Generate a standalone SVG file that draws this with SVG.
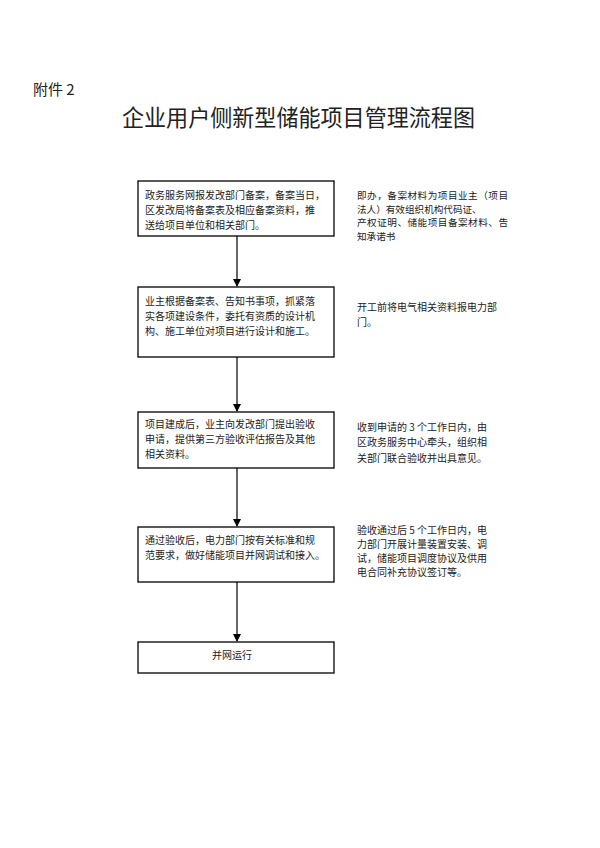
<svg xmlns="http://www.w3.org/2000/svg" width="600" height="848" viewBox="0 0 600 848">
<style>
text{font-family:"Noto Sans CJK SC","Noto Sans CJK JP",sans-serif;fill:#222}
.b{fill:#fff;stroke:#000;stroke-width:1.3}
.t{font-size:10px}
.r{font-size:9.6px}
.c{stroke:#000;stroke-width:1.2;fill:none}
</style>
<defs><marker id="a" markerWidth="8" markerHeight="8" refX="7" refY="4" orient="auto" markerUnits="userSpaceOnUse"><path d="M0,0L8,4L0,8z" fill="#000"/></marker></defs>
<rect width="600" height="848" fill="#fff"/>
<text x="33" y="95" font-size="15">附件 2</text>
<text x="122" y="126" font-size="22.5" textLength="353" lengthAdjust="spacingAndGlyphs">企业用户侧新型储能项目管理流程图</text>
<g id="connectors">
<line class="c" x1="237" y1="236" x2="237" y2="286" marker-end="url(#a)"/>
<line class="c" x1="237" y1="357" x2="237" y2="411" marker-end="url(#a)"/>
<line class="c" x1="237" y1="468" x2="237" y2="526" marker-end="url(#a)"/>
<line class="c" x1="237" y1="582" x2="237" y2="641" marker-end="url(#a)"/>
</g>
<g id="n1"><rect class="b" x="138" y="181" width="196" height="55"/>
<text class="t" x="145" y="198.5">政务服务网报发改部门备案，备案当日，</text>
<text class="t" x="145" y="213.5">区发改局将备案表及相应备案资料，推</text>
<text class="t" x="145" y="228.5">送给项目单位和相关部门。</text></g>
<g id="n2"><rect class="b" x="138" y="287" width="196" height="70"/>
<text class="t" x="145" y="304.5">业主根据备案表、告知书事项，抓紧落</text>
<text class="t" x="145" y="319.5">实各项建设条件，委托有资质的设计机</text>
<text class="t" x="145" y="334.5">构、施工单位对项目进行设计和施工。</text></g>
<g id="n3"><rect class="b" x="138" y="412" width="196" height="56"/>
<text class="t" x="145" y="427.5">项目建成后，业主向发改部门提出验收</text>
<text class="t" x="145" y="442.5">申请，提供第三方验收评估报告及其他</text>
<text class="t" x="145" y="457.5">相关资料。</text></g>
<g id="n4"><rect class="b" x="138" y="527" width="196" height="55"/>
<text class="t" x="145" y="543.5">通过验收后，电力部门按有关标准和规</text>
<text class="t" x="145" y="558.5">范要求，做好储能项目并网调试和接入。</text></g>
<g id="n5"><rect class="b" x="138" y="642" width="196" height="31"/>
<text class="t" x="232" y="658.5" text-anchor="middle">并网运行</text></g>
<g id="r1">
<text class="r" x="357" y="199" textLength="151">即办，备案材料为项目业主（项目</text>
<text class="r" x="357" y="212.5">法人）有效组织机构代码证、</text>
<text class="r" x="357" y="226" textLength="151">产权证明、储能项目备案材料、告</text>
<text class="r" x="357" y="239.5">知承诺书</text></g>
<g id="r2">
<text class="t" x="357" y="310.5">开工前将电气相关资料报电力部</text>
<text class="t" x="357" y="325.5">门。</text></g>
<g id="r3">
<text class="t" x="357" y="430.5">收到申请的 3 个工作日内，由</text>
<text class="t" x="357" y="446">区政务服务中心牵头，组织相</text>
<text class="t" x="357" y="461.5">关部门联合验收并出具意见。</text></g>
<g id="r4">
<text class="t" x="357" y="533.5">验收通过后 5 个工作日内，电</text>
<text class="t" x="357" y="547.5">力部门开展计量装置安装、调</text>
<text class="t" x="357" y="561.5">试，储能项目调度协议及供用</text>
<text class="t" x="357" y="576">电合同补充协议签订等。</text></g>
</svg>
